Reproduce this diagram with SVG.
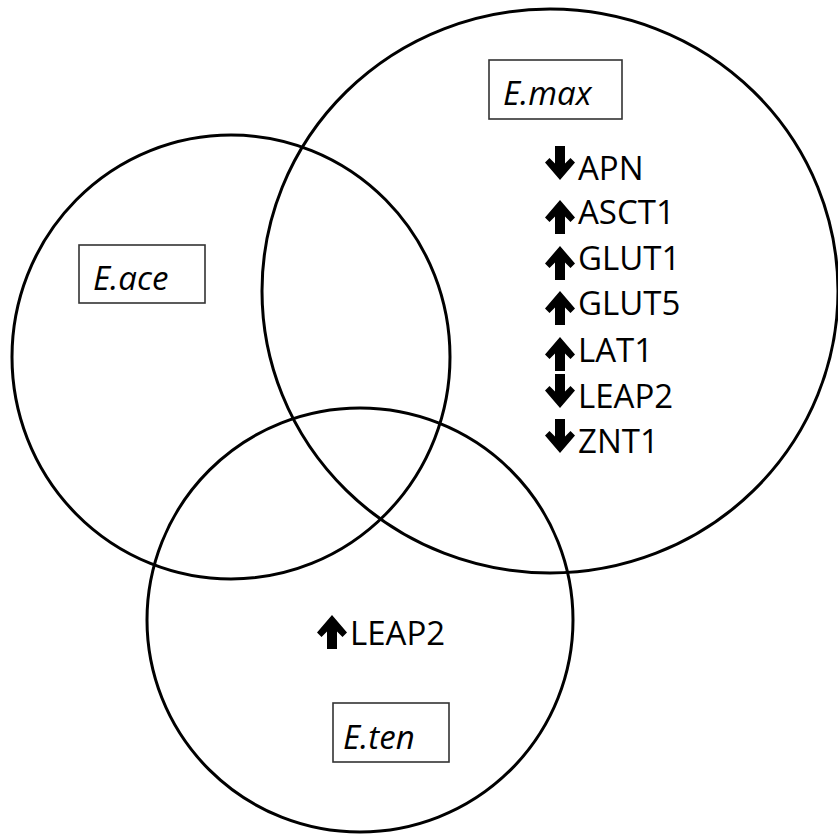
<svg xmlns="http://www.w3.org/2000/svg" xmlns:xlink="http://www.w3.org/1999/xlink" width="838" height="835" viewBox="0 0 838 835">
  <style>
    .set { fill: none; stroke: #000; stroke-width: 3; }
    .tag { fill: #fff; stroke: #333; stroke-width: 1.6; }
    .tagtxt { font-family: "Open Sans", "Noto Sans", sans-serif; font-style: italic; font-size: 33px; fill: #000; }
    .gene { font-family: "Open Sans", "Noto Sans", sans-serif; font-size: 33px; fill: #000; }
    .arr { fill: #000; }
  </style>
  <defs>
    <!-- bold down arrow, 30 wide x 34 tall -->
    <path id="down" class="arr" d="M10,0 H20 V17.5 L25.5,12 L30,16.5 L15,34 L0,16.5 L4.5,12 L10,17.5 Z"/>
    <!-- bold up arrow, 30 wide x 34 tall -->
    <path id="up" class="arr" d="M10,34 H20 V16.5 L25.5,22 L30,17.5 L15,0 L0,17.5 L4.5,22 L10,16.5 Z"/>
  </defs>

  <rect width="838" height="835" fill="#fff"/>

  <!-- set outlines -->
  <g id="set-ace">
    <ellipse class="set" cx="231" cy="357" rx="219" ry="222"/>
  </g>
  <g id="set-max">
    <ellipse class="set" cx="550" cy="291" rx="288" ry="282"/>
  </g>
  <g id="set-ten">
    <ellipse class="set" cx="360" cy="620" rx="213" ry="212"/>
  </g>

  <!-- set labels -->
  <g id="label-max">
    <rect class="tag" x="489" y="60" width="133" height="59"/>
    <text class="tagtxt" x="503" y="105">E.max</text>
  </g>
  <g id="label-ace">
    <rect class="tag" x="79" y="245" width="126" height="58"/>
    <text class="tagtxt" x="93" y="290">E.ace</text>
  </g>
  <g id="label-ten">
    <rect class="tag" x="333" y="703" width="116" height="59"/>
    <text class="tagtxt" x="343" y="749">E.ten</text>
  </g>

  <!-- genes regulated in E.max only -->
  <g id="genes-max">
    <use xlink:href="#down" x="545" y="146"/>
    <text class="gene" x="578" y="180">APN</text>
    <use xlink:href="#up" x="545" y="200"/>
    <text class="gene" x="578" y="224">ASCT1</text>
    <use xlink:href="#up" x="545" y="246"/>
    <text class="gene" x="578" y="270">GLUT1</text>
    <use xlink:href="#up" x="545" y="291"/>
    <text class="gene" x="578" y="315">GLUT5</text>
    <use xlink:href="#up" x="545" y="337"/>
    <text class="gene" x="578" y="362">LAT1</text>
    <use xlink:href="#down" x="545" y="374"/>
    <text class="gene" x="578" y="408">LEAP2</text>
    <use xlink:href="#down" x="545" y="419"/>
    <text class="gene" x="578" y="453">ZNT1</text>
  </g>

  <!-- genes regulated in E.ten only -->
  <g id="genes-ten">
    <use xlink:href="#up" x="317" y="615"/>
    <text class="gene" x="350" y="645">LEAP2</text>
  </g>
</svg>
